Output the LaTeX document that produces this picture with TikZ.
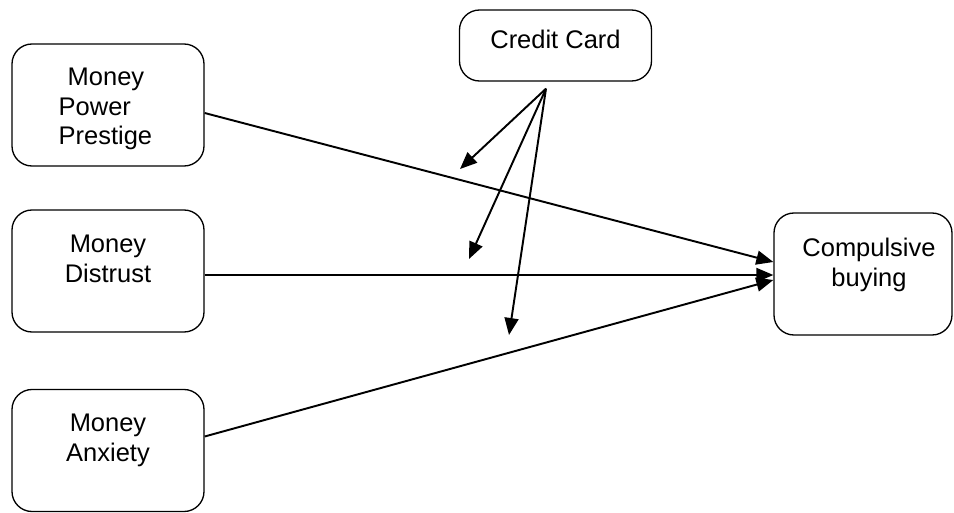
\documentclass[tikz,border=0pt]{standalone}
\usepackage{fontspec}
\setmainfont{Liberation Sans}
\usepackage{tikz}
\usetikzlibrary{arrows.meta,positioning}

\begin{document}
\begin{tikzpicture}[
  box/.style={rectangle, rounded corners=0.4cm, draw=black, line width=0.75pt,
    minimum width=3.84cm, minimum height=2.44cm},
  txt/.style={inner sep=0pt, align=center, font=\fontsize{14.5}{17}\selectfont},
  arrow/.style={-{Triangle[length=0.34cm,width=0.28cm]}, line width=1.1pt, black}
]
\useasboundingbox (0,0) rectangle (19.08,-10.24);

%% Left column: money attitudes
\node[box] (mpp) at (2.16,-2.10) {};
\node[box] (dist) at (2.16,-5.42) {};
\node[box] (anx) at (2.16,-9.01) {};

%% Moderator and outcome
\node[box, minimum height=1.42cm] (cc) at (11.11,-0.91) {};
\node[box, minimum width=3.56cm] (comp) at (17.26,-5.48) {};

%% Box texts
\node[txt, align=left, below right=0.48cm and 0.94cm of mpp.north west] (mpptxt)
  {\hspace{0.18cm}Money\\Power\\Prestige};
\node[txt, below=0.5cm of dist.north] (disttxt) {Money\\Distrust};
\node[txt, below=0.5cm of anx.north] (anxtxt) {Money\\Anxiety};
\node[txt, below=0.4cm of cc.north] (cctxt) {Credit Card};
\node[txt, below=0.5cm of comp.north, xshift=0.12cm] (comptxt) {Compulsive\\buying};

%% Arrows to compulsive buying
\draw[arrow] ([yshift=-0.16cm]mpp.east) -- ([yshift=0.24cm]comp.west);
\draw[arrow] ([yshift=-0.08cm]dist.east) -- ([yshift=-0.08cm]dist.east -| comp.west);
\draw[arrow] ([yshift=0.28cm]anx.east) -- ([yshift=-0.12cm]comp.west);

%% Arrows from credit card
\coordinate (ccfoot) at ([xshift=-0.19cm,yshift=-0.14cm]cc.south);
\coordinate (m1) at (9.20,-3.38);
\coordinate (m2) at (9.38,-5.18);
\coordinate (m3) at (10.18,-6.70);
\draw[arrow] (ccfoot) -- (m1);
\draw[arrow] (ccfoot) -- (m2);
\draw[arrow] (ccfoot) -- (m3);

\end{tikzpicture}
\end{document}
